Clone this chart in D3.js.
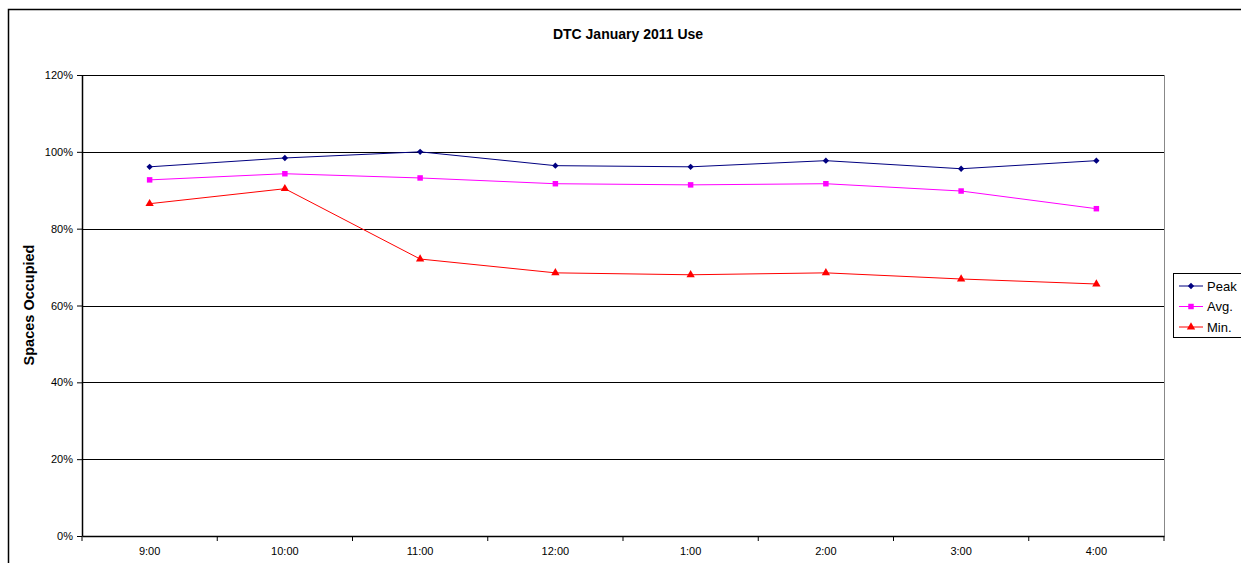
<!DOCTYPE html>
<html>
<head>
<meta charset="utf-8">
<script src="https://cdn.jsdelivr.net/npm/d3@7"></script>
<style>
body { margin: 0; background: #fff; }
text { font-family: "Liberation Sans", Arial, sans-serif; }
</style>
</head>
<body>
<svg width="1241" height="563"></svg>
<script>
var categories = ["9:00", "10:00", "11:00", "12:00", "1:00", "2:00", "3:00", "4:00"];
var peak = [0.961, 0.984, 1.0, 0.964, 0.961, 0.977, 0.956, 0.977];
var avg = [0.927, 0.943, 0.932, 0.917, 0.914, 0.917, 0.898, 0.852];
var minv = [0.865, 0.904, 0.721, 0.685, 0.680, 0.685, 0.669, 0.656];
var yTicks = [0, 0.2, 0.4, 0.6, 0.8, 1.0, 1.2];

var series = [
    { name: "Peak", values: peak, color: "#000080", shape: d3.symbolSquare, size: 20, rot: 45 },
    { name: "Avg.", values: avg, color: "#FF00FF", shape: d3.symbolSquare, size: 30, rot: 0 },
    { name: "Min.", values: minv, color: "#FF0000", shape: d3.symbolTriangle, size: 30, rot: 0 }
];

var svg = d3.select("svg");
var plotLeft = 82, plotRight = 1164, plotTop = 75, plotBottom = 536;

// outer chart border
svg.append("rect").attr("x", 8.5).attr("y", 9.5).attr("width", 1250).attr("height", 570)
    .attr("fill", "none").attr("stroke", "#000").attr("stroke-width", 1.5);

var x = d3.scaleBand().domain(categories).range([plotLeft, plotRight]);
var y = d3.scaleLinear().domain([0, 1.2]).range([plotBottom, plotTop]);

// grid
svg.selectAll(".grid").data(yTicks.slice(1)).enter().append("line")
    .attr("x1", plotLeft).attr("x2", plotRight)
    .attr("y1", function (d) { return Math.round(y(d)) + 0.5; })
    .attr("y2", function (d) { return Math.round(y(d)) + 0.5; })
    .attr("stroke", "#000").attr("stroke-width", 1);

// right plot border
svg.append("line").attr("x1", plotRight + 0.5).attr("x2", plotRight + 0.5)
    .attr("y1", plotTop).attr("y2", plotBottom).attr("stroke", "#888");

var yAxis = svg.append("g").attr("transform", "translate(" + plotLeft + ",0)")
    .call(d3.axisLeft(y).tickValues(yTicks).tickFormat(d3.format(".0%")).tickSize(5).tickSizeOuter(0).tickPadding(4));
var xAxis = svg.append("g").attr("transform", "translate(0," + plotBottom + ")")
    .call(d3.axisBottom(x).tickSize(0).tickPadding(11));

// x ticks at band boundaries
svg.selectAll(".xt").data(categories.concat(["end"])).enter().append("line")
    .attr("x1", function (d, i) { return plotLeft + i * x.bandwidth(); })
    .attr("x2", function (d, i) { return plotLeft + i * x.bandwidth(); })
    .attr("y1", plotBottom).attr("y2", plotBottom + 5)
    .attr("stroke", "#000");

[yAxis, xAxis].forEach(function (a) {
    a.selectAll("path").attr("stroke", "#000").attr("stroke-width", 1.5);
    a.selectAll("line").attr("stroke", "#000");
    a.selectAll("text").attr("font-size", 11).attr("fill", "#000")
        .style("font-family", "'Liberation Sans', Arial, sans-serif");
});

var line = d3.line()
    .x(function (d, i) { return x(categories[i]) + x.bandwidth() / 2; })
    .y(function (d) { return y(d); });

series.forEach(function (s) {
    svg.append("path").datum(s.values).attr("d", line)
        .attr("fill", "none").attr("stroke", s.color).attr("stroke-width", 1);
    svg.selectAll(null).data(s.values).enter().append("path")
        .attr("d", d3.symbol().type(s.shape).size(s.size))
        .attr("transform", function (d, i) {
            return "translate(" + (x(categories[i]) + x.bandwidth() / 2) + "," + y(d) + ") rotate(" + s.rot + ")";
        })
        .attr("fill", s.color);
});

// title
svg.append("text").attr("x", 628).attr("y", 39).attr("text-anchor", "middle")
    .attr("font-size", 14).attr("font-weight", "bold").text("DTC January 2011 Use");

// y axis label
svg.append("text").attr("transform", "translate(34,305) rotate(-90)")
    .attr("text-anchor", "middle").attr("font-size", 14.5).attr("font-weight", "bold")
    .text("Spaces Occupied");

// legend
var lg = svg.append("g");
lg.append("rect").attr("x", 1173.5).attr("y", 273.5).attr("width", 80).attr("height", 64)
    .attr("fill", "#fff").attr("stroke", "#000");
series.forEach(function (s, i) {
    var ly = 286 + i * 20.5;
    lg.append("line").attr("x1", 1179).attr("x2", 1203).attr("y1", ly).attr("y2", ly)
        .attr("stroke", s.color);
    lg.append("path").attr("d", d3.symbol().type(s.shape).size(s.size))
        .attr("transform", "translate(1191," + ly + ") rotate(" + s.rot + ")").attr("fill", s.color);
    lg.append("text").attr("x", 1207).attr("y", ly + 4.5).attr("font-size", 13).text(s.name);
});
</script>
</body>
</html>
